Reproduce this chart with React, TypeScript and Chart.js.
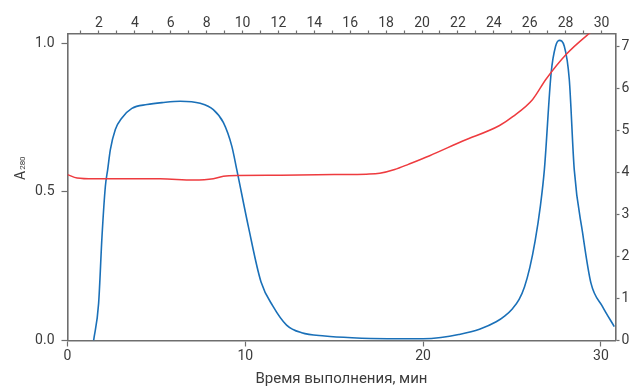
import React, { useEffect, useRef } from "react";
import { Chart, registerables } from "chart.js";

Chart.register(...registerables);

// Blue trace: absorbance A280 vs time (min)
const blueTime = [1.47, 1.75, 1.94, 2.13, 2.26, 2.41, 2.69, 3.06, 3.62, 4.47, 5.4, 6.34, 7.46, 8.2, 8.77, 9.24, 9.52, 10.17, 10.88, 11.57, 12.32, 13.17, 14.47, 16, 18, 20, 21, 22, 23.17, 24.11, 24.6, 25.04, 25.4, 25.7, 26.0, 26.3, 26.6, 26.82, 27.2, 27.45, 27.66, 27.94, 28.22, 28.5, 28.97, 29.44, 30.09, 30.75];
const blueA280 = [0, 0.125, 0.35, 0.519, 0.575, 0.642, 0.71, 0.749, 0.781, 0.794, 0.801, 0.805, 0.798, 0.777, 0.733, 0.654, 0.575, 0.384, 0.198, 0.114, 0.052, 0.026, 0.015, 0.009, 0.006, 0.006, 0.01, 0.02, 0.038, 0.063, 0.083, 0.108, 0.138, 0.18, 0.245, 0.335, 0.455, 0.575, 0.9, 0.99, 1.01, 0.99, 0.879, 0.575, 0.362, 0.193, 0.114, 0.047];

// Red trace: right axis vs time (min)
const redTime = [0, 0.54, 1.47, 5.21, 7.08, 8.2, 8.77, 9.52, 12, 15, 16.81, 17.56, 18.4, 19.2, 20.37, 22.23, 24.3, 25.04, 26.16, 26.91, 28.04, 29.34, 30.82];
const redValue = [3.95, 3.87, 3.85, 3.85, 3.82, 3.85, 3.91, 3.93, 3.935, 3.95, 3.96, 3.98, 4.07, 4.2, 4.4, 4.75, 5.12, 5.33, 5.74, 6.22, 6.81, 7.31, 7.8];

const xTitle = "Время выполнения, мин";
const yTitleMain = "A";
const yTitleSub = "280";

const FONT = "Roboto, 'DejaVu Sans', sans-serif";
const AXIS = "#6e6e6e";
const TXT = "#3c3c3c";

export default function App() {
  const ref = useRef<HTMLCanvasElement | null>(null);
  useEffect(() => {
    document.body.style.margin = "0";
    const canvas = ref.current!;
    const yTitlePlugin = {
      id: "yTitle",
      afterDraw(chart: any) {
        const ctx = chart.ctx;
        ctx.save();
        ctx.fillStyle = TXT;
        ctx.translate(25, 180);
        ctx.rotate(-Math.PI / 2);
        ctx.textBaseline = "alphabetic";
        ctx.textAlign = "left";
        ctx.font = `14px ${FONT}`;
        ctx.fillText(yTitleMain, 0, 0);
        const w = ctx.measureText(yTitleMain).width;
        ctx.font = `8px ${FONT}`;
        ctx.fillText(yTitleSub, w + 1, 0);
        ctx.restore();
      },
    };
    const chart = new Chart(canvas, {
      type: "line",
      data: {
        datasets: [
          {
            label: "red",
            data: redTime.map((t, i) => ({ x: t, y: redValue[i] })),
            borderColor: "#ee3b3f",
            borderWidth: 1.5,
            pointRadius: 0,
            cubicInterpolationMode: "monotone",
            xAxisID: "x",
            yAxisID: "y2",
          },
          {
            label: "blue",
            data: blueTime.map((t, i) => ({ x: t, y: blueA280[i] })),
            borderColor: "#1a70b8",
            borderWidth: 1.6,
            pointRadius: 0,
            cubicInterpolationMode: "monotone",
            xAxisID: "x",
            yAxisID: "y",
          },
        ],
      },
      options: {
        responsive: false,
        animation: false,
        layout: { padding: 0 },
        plugins: { legend: { display: false }, tooltip: { enabled: false } },
        scales: {
          x: {
            type: "linear",
            position: "bottom",
            min: 0,
            max: 30.82,
            afterFit: (s: any) => { s.height = 46.5; },
            ticks: { stepSize: 10, includeBounds: false, color: TXT, font: { family: FONT, size: 14 }, padding: 2, maxRotation: 0 },
            grid: { drawOnChartArea: false, tickLength: 6, tickColor: AXIS, tickWidth: 1.2 },
            border: { color: AXIS, width: 1.6 },
            title: { display: true, text: xTitle, color: TXT, font: { family: FONT, size: 15, lineHeight: 1 }, padding: { top: 0, bottom: 0 } },
          },
          x2: {
            type: "linear",
            position: "top",
            min: 0.25,
            max: 30.78,
            afterFit: (s: any) => { s.height = 33.5; },
            ticks: {
              stepSize: 1,
              includeBounds: false,
              autoSkip: false,
              maxRotation: 0,
              color: TXT,
              font: { family: FONT, size: 14 },
              padding: -1,
              callback: (v: any) => (Math.round(v) % 2 === 0 ? String(Math.round(v)) : ""),
            },
            grid: { drawOnChartArea: false, tickLength: 3, tickColor: AXIS, tickWidth: 1.2 },
            border: { color: AXIS, width: 1.6 },
          },
          y: {
            type: "linear",
            position: "left",
            min: 0,
            max: 1.033,
            afterFit: (s: any) => { s.width = 67.5; },
            ticks: { stepSize: 0.5, includeBounds: false, color: TXT, font: { family: FONT, size: 14 }, padding: 7, callback: (v: any) => Number(v).toFixed(1) },
            grid: { drawOnChartArea: false, tickLength: 6, tickColor: AXIS, tickWidth: 1.2 },
            border: { color: AXIS, width: 1.6 },
          },
          y2: {
            type: "linear",
            position: "right",
            min: 0,
            max: 7.31,
            afterFit: (s: any) => { s.width = 22.5; },
            ticks: { stepSize: 1, includeBounds: false, color: TXT, font: { family: FONT, size: 14 }, padding: 2 },
            grid: { drawOnChartArea: false, tickLength: 4, tickColor: AXIS, tickWidth: 1.2 },
            border: { color: AXIS, width: 1.6 },
          },
        },
      },
      plugins: [yTitlePlugin],
    } as any);
    return () => chart.destroy();
  }, []);
  return (
    <div style={{ width: 638, height: 387, background: "#fff" }}>
      <canvas ref={ref} width={638} height={387} />
    </div>
  );
}
